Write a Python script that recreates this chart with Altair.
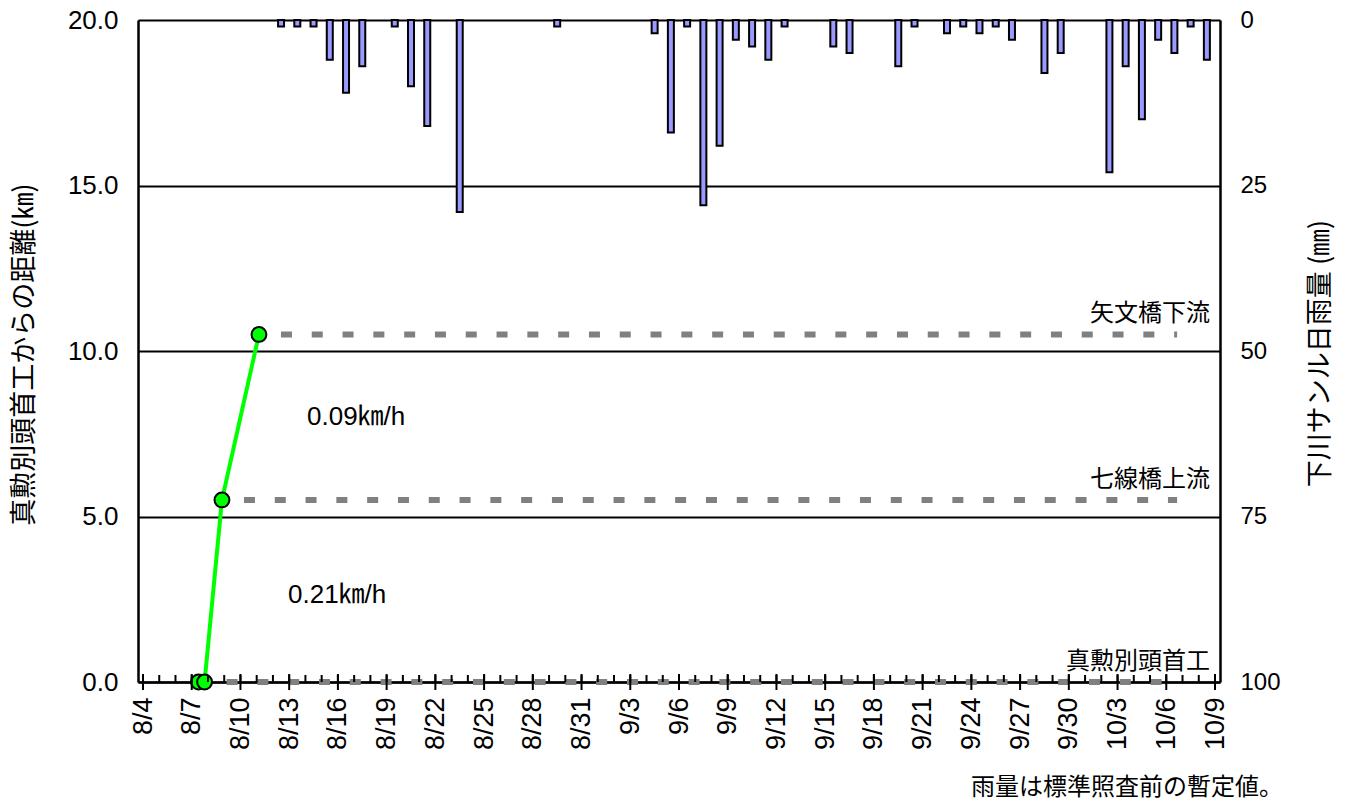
import altair as alt
import pandas as pd

BASE = pd.Timestamp("2021-08-04")

# x-axis tick labels (every 3 days from 8/4 to 10/9)
tick_labels = ["8/4", "8/7", "8/10", "8/13", "8/16", "8/19", "8/22", "8/25", "8/28",
               "8/31", "9/3", "9/6", "9/9", "9/12", "9/15", "9/18", "9/21", "9/24",
               "9/27", "9/30", "10/3", "10/6", "10/9"]

# daily rainfall (mm) at 下川サンル
rain_dates = ["2021-08-12", "2021-08-13", "2021-08-14", "2021-08-15", "2021-08-16",
              "2021-08-17", "2021-08-19", "2021-08-20", "2021-08-21", "2021-08-23",
              "2021-08-29", "2021-09-04", "2021-09-05", "2021-09-06", "2021-09-07",
              "2021-09-08", "2021-09-09", "2021-09-10", "2021-09-11", "2021-09-12",
              "2021-09-15", "2021-09-16", "2021-09-19", "2021-09-20", "2021-09-22",
              "2021-09-23", "2021-09-24", "2021-09-25", "2021-09-26", "2021-09-28",
              "2021-09-29", "2021-10-02", "2021-10-03", "2021-10-04", "2021-10-05",
              "2021-10-06", "2021-10-07", "2021-10-08"]
rain_mm = [1, 1, 1, 6, 11, 7, 1, 10, 16, 29,
           1, 2, 17, 1, 28, 19, 3, 4, 6, 1,
           4, 5, 7, 1, 2, 1, 2, 1, 3, 8,
           5, 23, 7, 15, 3, 5, 1, 6]

# tracked position (km from 真勲別頭首工)
survey_times = ["2021-08-07 10:00", "2021-08-07 19:00", "2021-08-08 20:40", "2021-08-11 03:20"]
survey_km = [0.0, 0.0, 5.5, 10.5]

# reference stations
stations = ["真勲別頭首工", "七線橋上流", "矢文橋下流"]
station_km = [0.0, 5.5, 10.5]
station_start = ["2021-08-07 19:00", "2021-08-08 20:40", "2021-08-11 03:20"]
station_end = "2021-10-06 16:00"

speed_labels = ["0.21㎞/h", "0.09㎞/h"]
footnote = "雨量は標準照査前の暫定値。"


def day(ts):
    return (pd.Timestamp(ts) - BASE) / pd.Timedelta(days=1)


N_DAYS = int(day("2021-10-09"))

rain_df = pd.DataFrame({"x": [day(d) + 0.5 for d in rain_dates], "rain": rain_mm})
pts_df = pd.DataFrame({"x": [day(t) for t in survey_times], "km": survey_km})
st_df = pd.DataFrame({"name": stations, "km": station_km,
                      "x": [day(t) for t in station_start],
                      "x2": [day(station_end)] * len(stations)})
minor_df = pd.DataFrame({"x": list(range(0, N_DAYS + 1))})
major_df = pd.DataFrame({"x": list(range(0, N_DAYS + 1, 3))})

W, H = 1082, 662
JP = "Noto Sans CJK JP"
LAT = "Liberation Sans"

label_expr = "[" + ",".join("'%s'" % l for l in tick_labels) + "][round(datum.value/3)]"

xscale = alt.Scale(domain=[0, N_DAYS], nice=False, zero=False)
xaxis = alt.Axis(values=list(range(0, N_DAYS + 1, 3)), labelExpr=label_expr,
                 labelAngle=270, labelAlign="right", labelBaseline="middle",
                 labelPadding=15, labelFont=LAT, labelFontSize=27, labelColor="black",
                 ticks=False, grid=False, domainColor="black", domainWidth=2.5,
                 title=None, labelOverlap=False)


def X(field="x"):
    return alt.X(field, type="quantitative", scale=xscale, axis=xaxis)


yscale = alt.Scale(domain=[0, 20], nice=False, zero=False)
yaxis = alt.Axis(orient="left", values=[0, 5, 10, 15, 20], format=".1f",
                 grid=True, gridColor="black", gridWidth=2, ticks=False,
                 domainColor="black", domainWidth=2.5,
                 labelFont=LAT, labelFontSize=26, labelColor="black", labelPadding=20,
                 title="真勲別頭首工からの距離(㎞)", titleFont=JP, titleFontSize=27,
                 titleFontWeight="normal", titleColor="black", titleAngle=270,
                 titleX=-114, titleY=334, titleAlign="center", titleBaseline="middle")


def Y(field="km"):
    return alt.Y(field, type="quantitative", scale=yscale, axis=yaxis)


rain_axis = alt.Axis(orient="right", values=[0, 25, 50, 75, 100], grid=False, ticks=False,
                     domainColor="black", domainWidth=2.5,
                     labelFont=LAT, labelFontSize=24, labelColor="black", labelPadding=20,
                     title="下川サンル日雨量 (㎜)", titleFont=JP, titleFontSize=27,
                     titleFontWeight="normal", titleColor="black", titleAngle=270,
                     titleX=100, titleY=333, titleAlign="center", titleBaseline="middle")

bars = alt.Chart(rain_df).mark_bar(width=6, fill="#9999FF", stroke="black",
                                   strokeWidth=2, orient="vertical").encode(
    x=X(),
    y=alt.Y("rain:Q", scale=alt.Scale(domain=[0, 100], reverse=True, nice=False), axis=rain_axis),
)

dash = alt.Chart(st_df).mark_rule(color="#808080", strokeWidth=6,
                                  strokeDash=[11, 19.8], strokeDashOffset=8.8).encode(
    x=X(), x2="x2:Q", y=Y(),
)

line = alt.Chart(pts_df).mark_line(color="#00FF00", strokeWidth=4).encode(x=X(), y=Y())
points = alt.Chart(pts_df).mark_circle(color="#00FF00", opacity=1, size=220,
                                       stroke="black", strokeWidth=2).encode(x=X(), y=Y())

st_text = alt.Chart(st_df).mark_text(font=JP, fontSize=24, color="black", align="right",
                                     baseline="middle", dy=-20).encode(
    x=alt.value(1072), y=Y(), text="name:N",
)

left = alt.layer(dash, line, points, st_text)

minor = alt.Chart(minor_df).mark_rule(color="black", strokeWidth=2).encode(
    x=X(), y=alt.value(H - 7), y2=alt.value(H))
major = alt.Chart(major_df).mark_rule(color="black", strokeWidth=2).encode(
    x=X(), y=alt.value(H - 8), y2=alt.value(H + 8))

speed_pos = [(150, 575), (169, 397)]
speed_layers = []
for lab, (px, py) in zip(speed_labels, speed_pos):
    speed_layers.append(
        alt.Chart(pd.DataFrame({"t": [lab]})).mark_text(
            font="Liberation Sans, Noto Sans CJK JP", fontSize=26, color="black",
            align="left", baseline="middle").encode(
            x=alt.value(px), y=alt.value(py), text="t:N"))

foot = alt.Chart(pd.DataFrame({"t": [footnote]})).mark_text(
    font=JP, fontSize=24, color="black", align="right", baseline="middle").encode(
    x=alt.value(1145), y=alt.value(768), text="t:N")

chart = alt.layer(bars, left, minor, major, *speed_layers, foot).resolve_scale(
    y="independent"
).properties(
    width=W, height=H,
    autosize=alt.AutoSizeParams(type="none"),
    padding={"left": 130, "top": 12, "right": 122, "bottom": 119},
).configure_view(stroke=None).configure(background="white")

chart.save("out.html", embed_options={"renderer": "svg", "actions": False})
